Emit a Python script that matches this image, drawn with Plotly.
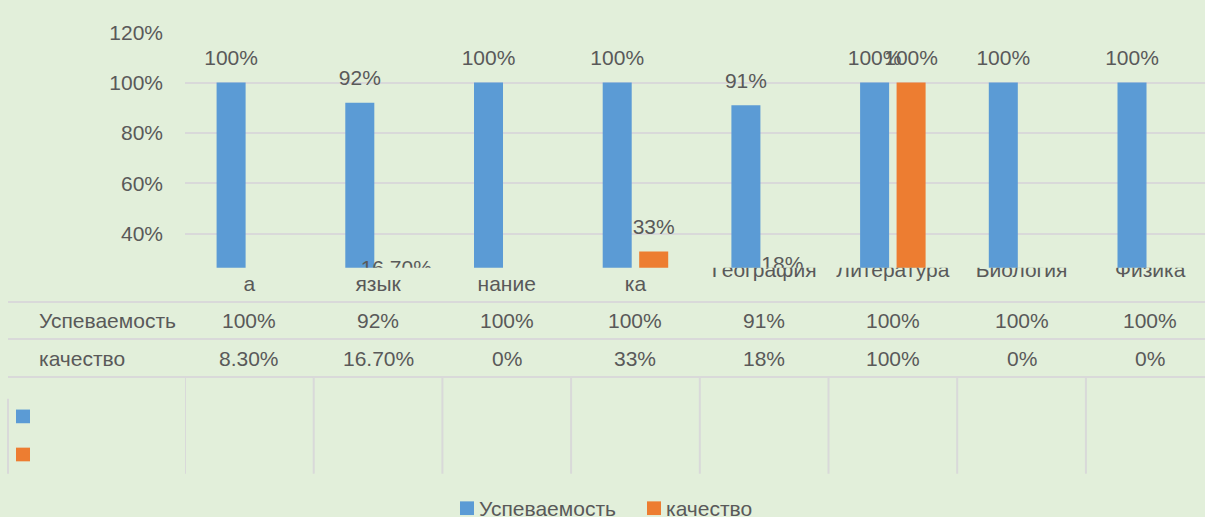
import plotly.graph_objects as go

# ---------------- data ----------------
subjects = ["а", "язык", "нание", "ка", "География", "Литература", "Биология", "Физика"]
subject_lines = [2, 2, 2, 2, 1, 1, 1, 1]  # wrapped labels show only their second line
series_names = ["Успеваемость", "качество"]
uspev = [1.00, 0.92, 1.00, 1.00, 0.91, 1.00, 1.00, 1.00]
kach = [0.083, 0.167, 0.0, 0.33, 0.18, 1.00, 0.0, 0.0]
uspev_labels = ["100%", "92%", "100%", "100%", "91%", "100%", "100%", "100%"]
kach_labels = ["8.30%", "16.70%", "0%", "33%", "18%", "100%", "0%", "0%"]
y_ticks = [0.4, 0.6, 0.8, 1.0, 1.2]

# ---------------- style ----------------
W, H = 1205, 517
BG = "#E2EFDA"
BLUE = "#5B9BD5"
ORANGE = "#ED7D31"
TXT = "#595959"
GRID = "#D9D9D9"
FONT = "Liberation Sans"
FS = 21


def px(x):
    return x / W


def py(y):
    return 1 - y / H


n = len(subjects)
idx = list(range(n))
col_w = 128.7
plot_left = 185
x_range = [-0.5, -0.5 + (W - plot_left) / col_w]
y_range = [0.2655, 1.2]
label_off = 23.5 / ((261.7 - 20.7) / (y_range[1] - y_range[0]))
BARGAP = 0.433
BARGROUPGAP = 0.205

fig = go.Figure()

fig.add_trace(go.Bar(x=idx, y=uspev, name=series_names[0], marker_color=BLUE,
                     marker_line_width=0, showlegend=False, xaxis="x", yaxis="y"))
fig.add_trace(go.Bar(x=idx, y=kach, name=series_names[1], marker_color=ORANGE,
                     marker_line_width=0, showlegend=False, xaxis="x", yaxis="y"))

# data labels (clipped by the plot area, as in the reference)
half = 0.5 * (1 - BARGAP) / 2
fig.add_trace(go.Scatter(x=[i - half for i in idx], y=[v + label_off for v in uspev],
                         text=uspev_labels, mode="text", textposition="middle center",
                         textfont=dict(family=FONT, size=FS, color=TXT),
                         cliponaxis=True, showlegend=False, hoverinfo="skip",
                         xaxis="x", yaxis="y"))
fig.add_trace(go.Scatter(x=[i + half for i in idx], y=[v + label_off for v in kach],
                         text=kach_labels, mode="text", textposition="middle center",
                         textfont=dict(family=FONT, size=FS, color=TXT),
                         cliponaxis=True, showlegend=False, hoverinfo="skip",
                         xaxis="x", yaxis="y"))

# category labels, clipped at the top
cat_text = [("<br>" * (k - 1)) + s for s, k in zip(subjects, subject_lines)]
fig.add_trace(go.Scatter(x=idx, y=[0.87] * n, text=cat_text, mode="text",
                         textposition="middle center",
                         textfont=dict(family=FONT, size=FS, color=TXT),
                         cliponaxis=True, showlegend=False, hoverinfo="skip",
                         xaxis="x2", yaxis="y2"))

shapes = []
annotations = []

# data table rows
row_y = [316.2, 355.0]
for name, labels, yy in zip(series_names, [uspev_labels, kach_labels], row_y):
    annotations.append(dict(x=px(37), y=py(yy), xref="paper", yref="paper", text=name,
                            showarrow=False, xanchor="left", yanchor="middle",
                            font=dict(family=FONT, size=FS, color=TXT)))
    for i, t in zip(idx, labels):
        annotations.append(dict(x=i, y=py(yy), xref="x", yref="paper", text=t,
                                showarrow=False, xanchor="center", yanchor="middle",
                                font=dict(family=FONT, size=FS, color=TXT)))

for yy in [297, 334.8, 373.8]:
    shapes.append(dict(type="line", xref="paper", yref="paper", x0=px(8), x1=1,
                       y0=py(yy), y1=py(yy), line=dict(color=GRID, width=2)))
for i in idx:
    shapes.append(dict(type="line", xref="x", yref="paper", x0=i - 0.5, x1=i - 0.5,
                       y0=py(374), y1=py(472.7), line=dict(color=GRID, width=2)))
shapes.append(dict(type="line", xref="paper", yref="paper", x0=px(8), x1=px(8),
                   y0=py(396), y1=py(472.7), line=dict(color=GRID, width=2)))

# legend keys inside the table
for col, (y0, y1) in zip([BLUE, ORANGE], [(407, 421), (446, 460)]):
    shapes.append(dict(type="rect", xref="paper", yref="paper", x0=px(16), x1=px(30),
                       y0=py(y1), y1=py(y0), fillcolor=col, line=dict(width=0)))

# bottom legend
for name, col, x0 in zip(series_names, [BLUE, ORANGE], [460, 647]):
    shapes.append(dict(type="rect", xref="paper", yref="paper", x0=px(x0), x1=px(x0 + 14),
                       y0=py(515), y1=py(501), fillcolor=col, line=dict(width=0)))
    annotations.append(dict(x=px(x0 + 17), y=py(508.5), xref="paper", yref="paper",
                            text=name, showarrow=False, xanchor="left", yanchor="middle",
                            font=dict(family=FONT, size=FS, color=TXT)))

fig.update_layout(
    width=W, height=H,
    margin=dict(l=0, r=0, t=0, b=0),
    paper_bgcolor=BG, plot_bgcolor=BG,
    barmode="group", bargap=BARGAP, bargroupgap=BARGROUPGAP,
    font=dict(family=FONT, size=FS, color=TXT),
    showlegend=False,
    xaxis=dict(domain=[px(plot_left), 1], range=x_range, showgrid=False, zeroline=False,
               showticklabels=False, showline=False, fixedrange=True),
    yaxis=dict(domain=[py(261.7), py(20.7)], range=y_range, tickvals=y_ticks,
               tickformat=".0%", showgrid=True, gridcolor=GRID, gridwidth=1.5,
               zeroline=False, showline=False, ticks="", ticklabelstandoff=21,
               tickfont=dict(family=FONT, size=FS, color=TXT)),
    xaxis2=dict(domain=[px(plot_left), 1], range=x_range, showgrid=False, zeroline=False,
                showticklabels=False, showline=False, anchor="y2"),
    yaxis2=dict(domain=[py(296), py(261.7)], range=[0, 1], showgrid=False, zeroline=False,
                showticklabels=False, showline=False, anchor="x2"),
    shapes=shapes,
    annotations=annotations,
)

fig.write_html(
    "out.html",
    config={"displayModeBar": False},
    post_script="document.body.style.margin='0';document.body.style.overflow='hidden';",
)
